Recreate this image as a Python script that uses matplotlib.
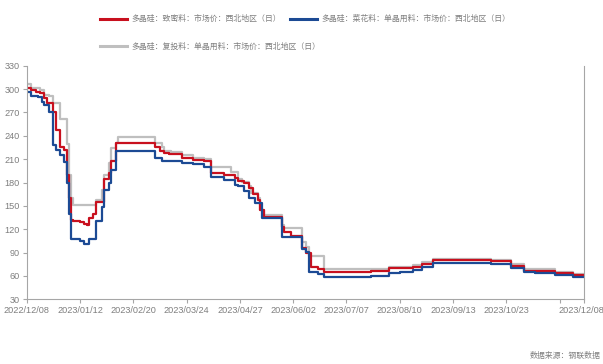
import numpy as np
import matplotlib.pyplot as plt
import matplotlib.transforms as mtransforms
from matplotlib.lines import Line2D

# Polysilicon spot prices, northwest China (yuan/kg), trading-day index of each price change
dense_x = [0, 2, 4, 6, 8, 9, 12, 13, 15, 17, 18, 19, 20, 21, 24, 26, 27, 28, 30, 31, 35, 37, 38, 40,
           58, 60, 62, 64, 70, 75, 80, 83, 89, 94, 95, 98, 100, 102, 104, 105, 107, 115, 116, 119,
           124, 126, 128, 131, 134, 155, 163, 174, 178, 183, 209, 218, 224, 238, 246, 251]
dense_y = [301, 299, 296.5, 294.5, 288, 282, 270, 247, 226, 222, 190, 160, 132, 131, 129, 127, 125, 135, 140, 155, 185, 192, 207, 231,
           226, 221, 218, 216, 212, 209, 207, 192, 190, 186, 182, 179, 173, 165, 157.5, 145, 136, 123, 117, 111,
           96, 90, 71, 68.5, 65.5, 66.5, 70.5, 72, 75.5, 80.5, 79, 73, 67, 64, 61, 61]

cauli_x = [0, 2, 5, 7, 8, 10, 12, 13, 15, 17, 18, 19, 20, 21, 24, 26, 28, 31, 34, 35, 37, 38, 40,
           58, 61, 70, 75, 80, 83, 89, 94, 95, 98, 100, 103, 106, 115, 124, 126, 127, 131, 134,
           155, 163, 168, 174, 178, 183, 209, 218, 224, 229, 238, 246, 251]
cauli_y = [296, 291, 290, 284, 280, 271, 228, 222, 215, 206, 180, 140, 108, 107, 105, 101, 107, 130, 149, 170, 180, 196, 221,
           211, 208, 205.5, 203.5, 200, 187, 183.5, 177, 175, 168.5, 160, 154, 134, 110.5, 95, 91, 65.5, 62.5, 59,
           60, 64, 65.5, 67.5, 72, 77, 75.5, 70, 65.5, 64, 61, 58.5, 58.5]

recharge_x = [0, 2, 6, 8, 10, 12, 15, 17, 18, 19, 20, 21, 31, 34, 35, 37, 38, 40, 41,
              58, 61, 62, 65, 70, 75, 80, 83, 89, 92, 95, 97, 100, 101, 104, 105, 107, 115, 116,
              124, 126, 127, 134, 155, 163, 174, 178, 183, 209, 218, 224, 238, 246, 251]
recharge_y = [306, 302, 299, 292.5, 291, 282, 262, 261, 230, 190, 160, 151, 158, 170, 190, 205, 224, 231, 239,
              231, 226, 220, 219, 215, 212, 210.5, 200.5, 200, 194, 185, 181, 175, 166, 160.5, 145, 138, 125, 121,
              104, 97, 85.5, 69, 68.5, 72, 74, 77.5, 82, 80.5, 75, 69, 65.5, 63, 63]

tick_pos = [0, 24, 48, 72, 96, 120, 144, 168, 192, 216, 240, 251]
tick_lab = ['2022/12/08', '2023/01/12', '2023/02/20', '2023/03/24', '2023/04/27', '2023/06/02',
            '2023/07/07', '2023/08/10', '2023/09/13', '2023/10/23', '', '2023/12/08']

names = ['多晶硅：致密料：市场价：西北地区（日）',
         '多晶硅：菜花料：单晶用料：市场价：西北地区（日）',
         '多晶硅：复投料：单晶用料：市场价：西北地区（日）']

RED = '#C8101E'
BLUE = '#1C4A94'
GREY = '#BFBFBF'
AXC = '#A6A6A6'
TXT = '#7F7F7F'
CJK = ['Noto Sans CJK SC', 'DejaVu Sans']
NUM = ['Liberation Sans Narrow', 'Liberation Sans', 'DejaVu Sans']

fig = plt.figure(figsize=(6.03, 3.64), dpi=100)
ax = fig.add_axes([0.0443, 0.1777, 0.9242, 0.6418])

ax.plot(recharge_x, recharge_y, drawstyle='steps-post', color=GREY, lw=1.6)
ax.plot(dense_x, dense_y, drawstyle='steps-post', color=RED, lw=1.6)
ax.plot(cauli_x, cauli_y, drawstyle='steps-post', color=BLUE, lw=1.6)

ax.set_xlim(0, 251)
ax.set_ylim(30, 330)
ax.set_yticks(np.arange(30, 331, 30))
ax.set_xticks(tick_pos)
ax.set_xticklabels(tick_lab)

for lab in ax.get_xticklabels() + ax.get_yticklabels():
    lab.set_family(NUM)
    lab.set_fontsize(6.6)
    lab.set_color(TXT)
ax.tick_params(axis='both', direction='out', length=3, width=0.8, color=AXC, pad=2)

# keep the last date inside the canvas
last = ax.get_xticklabels()[-1]
last.set_transform(last.get_transform() + mtransforms.ScaledTranslation(-3 / 100, 0, fig.dpi_scale_trans))

ax.spines['top'].set_visible(False)
for s in ['left', 'bottom', 'right']:
    ax.spines[s].set_color(AXC)
    ax.spines[s].set_linewidth(0.8)

# hand-placed legend, two rows
W, H = 603.0, 364.0
rows = [(100, 18.7, RED, names[0]), (290, 18.7, BLUE, names[1]), (100, 46.3, GREY, names[2])]
for x0, y0, c, t in rows:
    fig.add_artist(Line2D([x0 / W, (x0 + 26.5) / W], [1 - y0 / H, 1 - y0 / H],
                          transform=fig.transFigure, color=c, lw=2.2))
    fig.text((x0 + 31) / W, 1 - y0 / H, t, family=CJK, fontsize=5.7, color=TXT,
             va='center', ha='left')

fig.text(601 / W, 1 - 355 / H, '数据来源：钢联数据', family=CJK, fontsize=5.7,
         color=TXT, va='center', ha='right')

fig.savefig('out.png', dpi=100)
